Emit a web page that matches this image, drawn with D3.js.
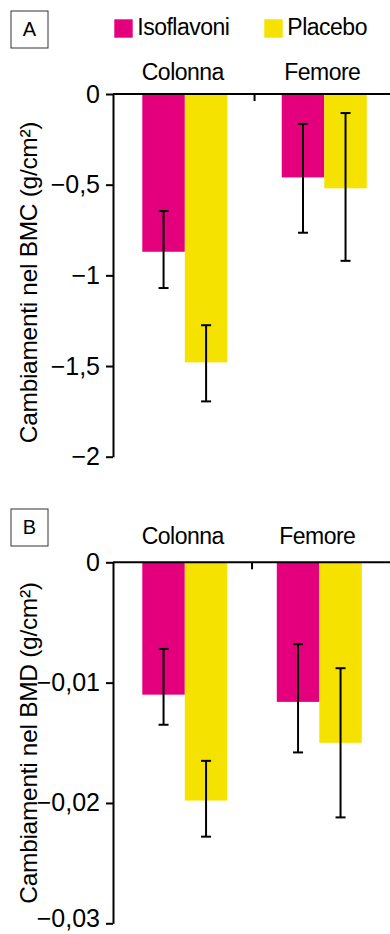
<!DOCTYPE html>
<html>
<head>
<meta charset="utf-8">
<script src="https://cdn.jsdelivr.net/npm/d3@7"></script>
<style>
body { margin: 0; background: #fff; }
svg { display: block; font-family: "Liberation Sans", Arial, sans-serif; }
</style>
</head>
<body>
<svg id="chart" width="390" height="934"></svg>
<script>
const groups = ['Colonna', 'Femore'];
const seriesNames = ['Isoflavoni', 'Placebo'];
const seriesColors = ['#e4007c', '#f6e200'];

// panel A - BMC
const bmcTicks = [0, -0.5, -1, -1.5, -2];
const bmcIsoflavoni = [-0.87, -0.46];
const bmcPlacebo = [-1.48, -0.52];
const bmcIsoflavoniHigh = [-0.645, -0.165];
const bmcIsoflavoniLow = [-1.07, -0.765];
const bmcPlaceboHigh = [-1.275, -0.105];
const bmcPlaceboLow = [-1.695, -0.92];

// panel B - BMD
const bmdTicks = [0, -0.01, -0.02, -0.03];
const bmdIsoflavoni = [-0.0110, -0.0116];
const bmdPlacebo = [-0.0198, -0.0150];
const bmdIsoflavoniHigh = [-0.0072, -0.0068];
const bmdIsoflavoniLow = [-0.0135, -0.0158];
const bmdPlaceboHigh = [-0.0165, -0.0088];
const bmdPlaceboLow = [-0.0228, -0.0212];

const svg = d3.select('#chart');
const comma = d => String(d).replace('.', ',').replace('-', '\u2212');
const axisX = 113;

function drawPanel(p) {
  const g = svg.append('g');
  const y = d3.scaleLinear().domain([0, p.ticks[p.ticks.length - 1]]).range(p.yRange);
  const x0 = d3.scaleBand().domain(groups).range(p.xRange).paddingInner(p.gap);
  const x1 = d3.scaleBand().domain(seriesNames).range([0, x0.bandwidth()]);

  const rows = groups.flatMap((grp, i) => seriesNames.map((s, j) => ({
    grp, s, j, v: p.values[j][i], hi: p.high[j][i], lo: p.low[j][i]
  })));

  // bars
  g.selectAll('rect.bar').data(rows).join('rect')
    .attr('class', 'bar')
    .attr('x', d => x0(d.grp) + x1(d.s))
    .attr('y', y(0))
    .attr('width', x1.bandwidth())
    .attr('height', d => y(d.v) - y(0))
    .attr('fill', d => seriesColors[d.j]);

  // error bars
  const cx = d => x0(d.grp) + x1(d.s) + x1.bandwidth() / 2;
  const eb = g.selectAll('g.err').data(rows).join('g').attr('class', 'err')
    .attr('stroke', '#000').attr('stroke-width', 2);
  eb.append('line').attr('x1', cx).attr('x2', cx).attr('y1', d => y(d.hi)).attr('y2', d => y(d.lo));
  eb.append('line').attr('x1', d => cx(d) - 5).attr('x2', d => cx(d) + 5).attr('y1', d => y(d.hi)).attr('y2', d => y(d.hi));
  eb.append('line').attr('x1', d => cx(d) - 5).attr('x2', d => cx(d) + 5).attr('y1', d => y(d.lo)).attr('y2', d => y(d.lo));

  // y axis
  const ax = g.append('g')
    .attr('transform', `translate(${axisX},0)`)
    .call(d3.axisLeft(y).tickValues(p.ticks).tickFormat(comma).tickSize(7).tickSizeOuter(0).tickPadding(6));
  ax.select('.domain').attr('stroke', '#000').attr('stroke-width', 2);
  ax.selectAll('.tick line').attr('stroke', '#000').attr('stroke-width', 2);
  ax.selectAll('.tick text').attr('fill', '#000').style('font-size', '25px')
    .style('font-family', '"Liberation Sans", Arial, sans-serif');
  // last label nudged up so it stays inside the picture
  ax.selectAll('.tick text').filter((d, i, n) => i === n.length - 1)
    .attr('y', -p.lastShift);

  // zero baseline + separator tick
  g.append('line').attr('x1', axisX).attr('x2', 390).attr('y1', y(0)).attr('y2', y(0))
    .attr('stroke', '#000').attr('stroke-width', 2);
  const sepX = x0(groups[0]) + x0.bandwidth() + (x0.step() - x0.bandwidth()) / 2;
  g.append('line').attr('x1', sepX).attr('x2', sepX).attr('y1', y(0)).attr('y2', y(0) + 7)
    .attr('stroke', '#000').attr('stroke-width', 2);

  // category labels
  g.selectAll('text.cat').data(groups).join('text')
    .attr('class', 'cat')
    .attr('x', d => x0(d) + x0.bandwidth() / 2 - 2)
    .attr('y', p.catY)
    .attr('text-anchor', 'middle')
    .style('font-size', '23px').style('letter-spacing', '-0.5px')
    .text(d => d);

  // y title
  g.append('text')
    .attr('transform', `translate(37,${p.titleY}) rotate(-90)`)
    .attr('text-anchor', 'middle')
    .style('font-size', '24.5px').style('letter-spacing', '-0.3px')
    .text(p.title);

  // panel letter box
  g.append('rect').attr('x', 11).attr('y', p.boxY).attr('width', 37).attr('height', 37)
    .attr('fill', 'none').attr('stroke', '#333').attr('stroke-width', 1);
  g.append('text').attr('x', 29.5).attr('y', p.boxY + 24.5).attr('text-anchor', 'middle')
    .style('font-size', '20px').text(p.letter);
}

drawPanel({
  ticks: bmcTicks, yRange: [94, 456.7], xRange: [142.3, 366.8], gap: 0.39, lastShift: 0,
  values: [bmcIsoflavoni, bmcPlacebo], high: [bmcIsoflavoniHigh, bmcPlaceboHigh], low: [bmcIsoflavoniLow, bmcPlaceboLow],
  catY: 80, titleY: 282.5, boxY: 11, letter: 'A', title: 'Cambiamenti nel BMC (g/cm²)'
});

drawPanel({
  ticks: bmdTicks, yRange: [562.3, 923.3], xRange: [142.3, 361.8], gap: 0.368, lastShift: 5,
  values: [bmdIsoflavoni, bmdPlacebo], high: [bmdIsoflavoniHigh, bmdPlaceboHigh], low: [bmdIsoflavoniLow, bmdPlaceboLow],
  catY: 544.3, titleY: 743, boxY: 509, letter: 'B', title: 'Cambiamenti nel BMD (g/cm²)'
});

// legend
const legendX = [114.3, 264.3];
const legend = svg.append('g').selectAll('g').data(seriesNames).join('g')
  .attr('transform', (d, i) => `translate(${legendX[i]},19.3)`);
legend.append('rect').attr('width', 18.4).attr('height', 18.4).attr('fill', (d, i) => seriesColors[i]);
legend.append('text').attr('x', 23).attr('y', 15.2)
  .style('font-size', '23px').style('letter-spacing', '-0.5px')
  .text(d => d);
</script>
</body>
</html>
